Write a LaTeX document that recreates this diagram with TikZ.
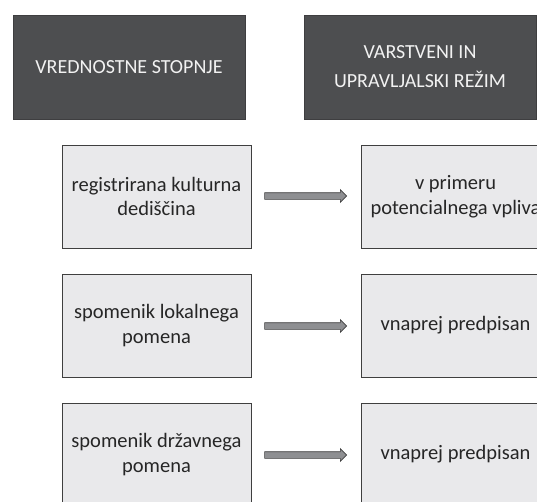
\documentclass[tikz,border=0pt]{standalone}
\usepackage{fontspec}
\setmainfont{Carlito}
\usetikzlibrary{shapes.arrows}
\definecolor{headfill}{HTML}{4D4E50}
\definecolor{headtext}{HTML}{F2F2F2}
\definecolor{boxfill}{HTML}{E9E9EB}
\definecolor{boxline}{HTML}{3F3F3F}
\definecolor{boxtext}{HTML}{262626}
\definecolor{arrowfill}{HTML}{8E8F92}
\tikzset{
  x=1pt, y=-1pt,
  header/.style={draw=headfill!80!black, line width=0.8pt, fill=headfill,
    text=headtext, align=center, inner sep=0pt,
    minimum width=232pt, minimum height=104pt,
    font=\fontsize{20}{29}\selectfont},
  levelbox/.style={draw=boxline, line width=0.8pt, fill=boxfill,
    text=boxtext, align=center, inner sep=0pt,
    minimum width=189pt, minimum height=103pt,
    font=\fontsize{20.5}{24.5}\selectfont},
  blockarrow/.style={single arrow, draw=boxline, line width=0.6pt,
    fill=arrowfill, inner sep=3pt, minimum width=12pt,
    single arrow head extend=3pt, minimum height=82pt}
}
\begin{document}
\begin{tikzpicture}
\useasboundingbox (0,0) rectangle (537,501);
\clip (0,0) rectangle (537,501);
% column headers
\node[header] (h1) at (129,67) {VREDNOSTNE STOPNJE};
\node[header] (h2) at (420,67) {VARSTVENI IN\\UPRAVLJALSKI REŽIM};
% value levels
\node[levelbox] (l1) at (156.5,196.5) {registrirana kulturna\\dediščina};
\node[levelbox] (l2) at (156.5,325.5) {spomenik lokalnega\\pomena};
\node[levelbox] (l3) at (156.5,454.5) {spomenik državnega\\pomena};
% protection regimes
\node[levelbox] (r1) at (455.5,196.5) {v primeru\\potencialnega vpliva};
\node[levelbox] (r2) at (455.5,325.5) {vnaprej predpisan};
\node[levelbox] (r3) at (455.5,454.5) {vnaprej predpisan};
% arrows between the columns
\node[blockarrow] (a1) at (304,196) {};
\node[blockarrow] (a2) at (304,326) {};
\node[blockarrow] (a3) at (304,455) {};
\end{tikzpicture}
\end{document}
